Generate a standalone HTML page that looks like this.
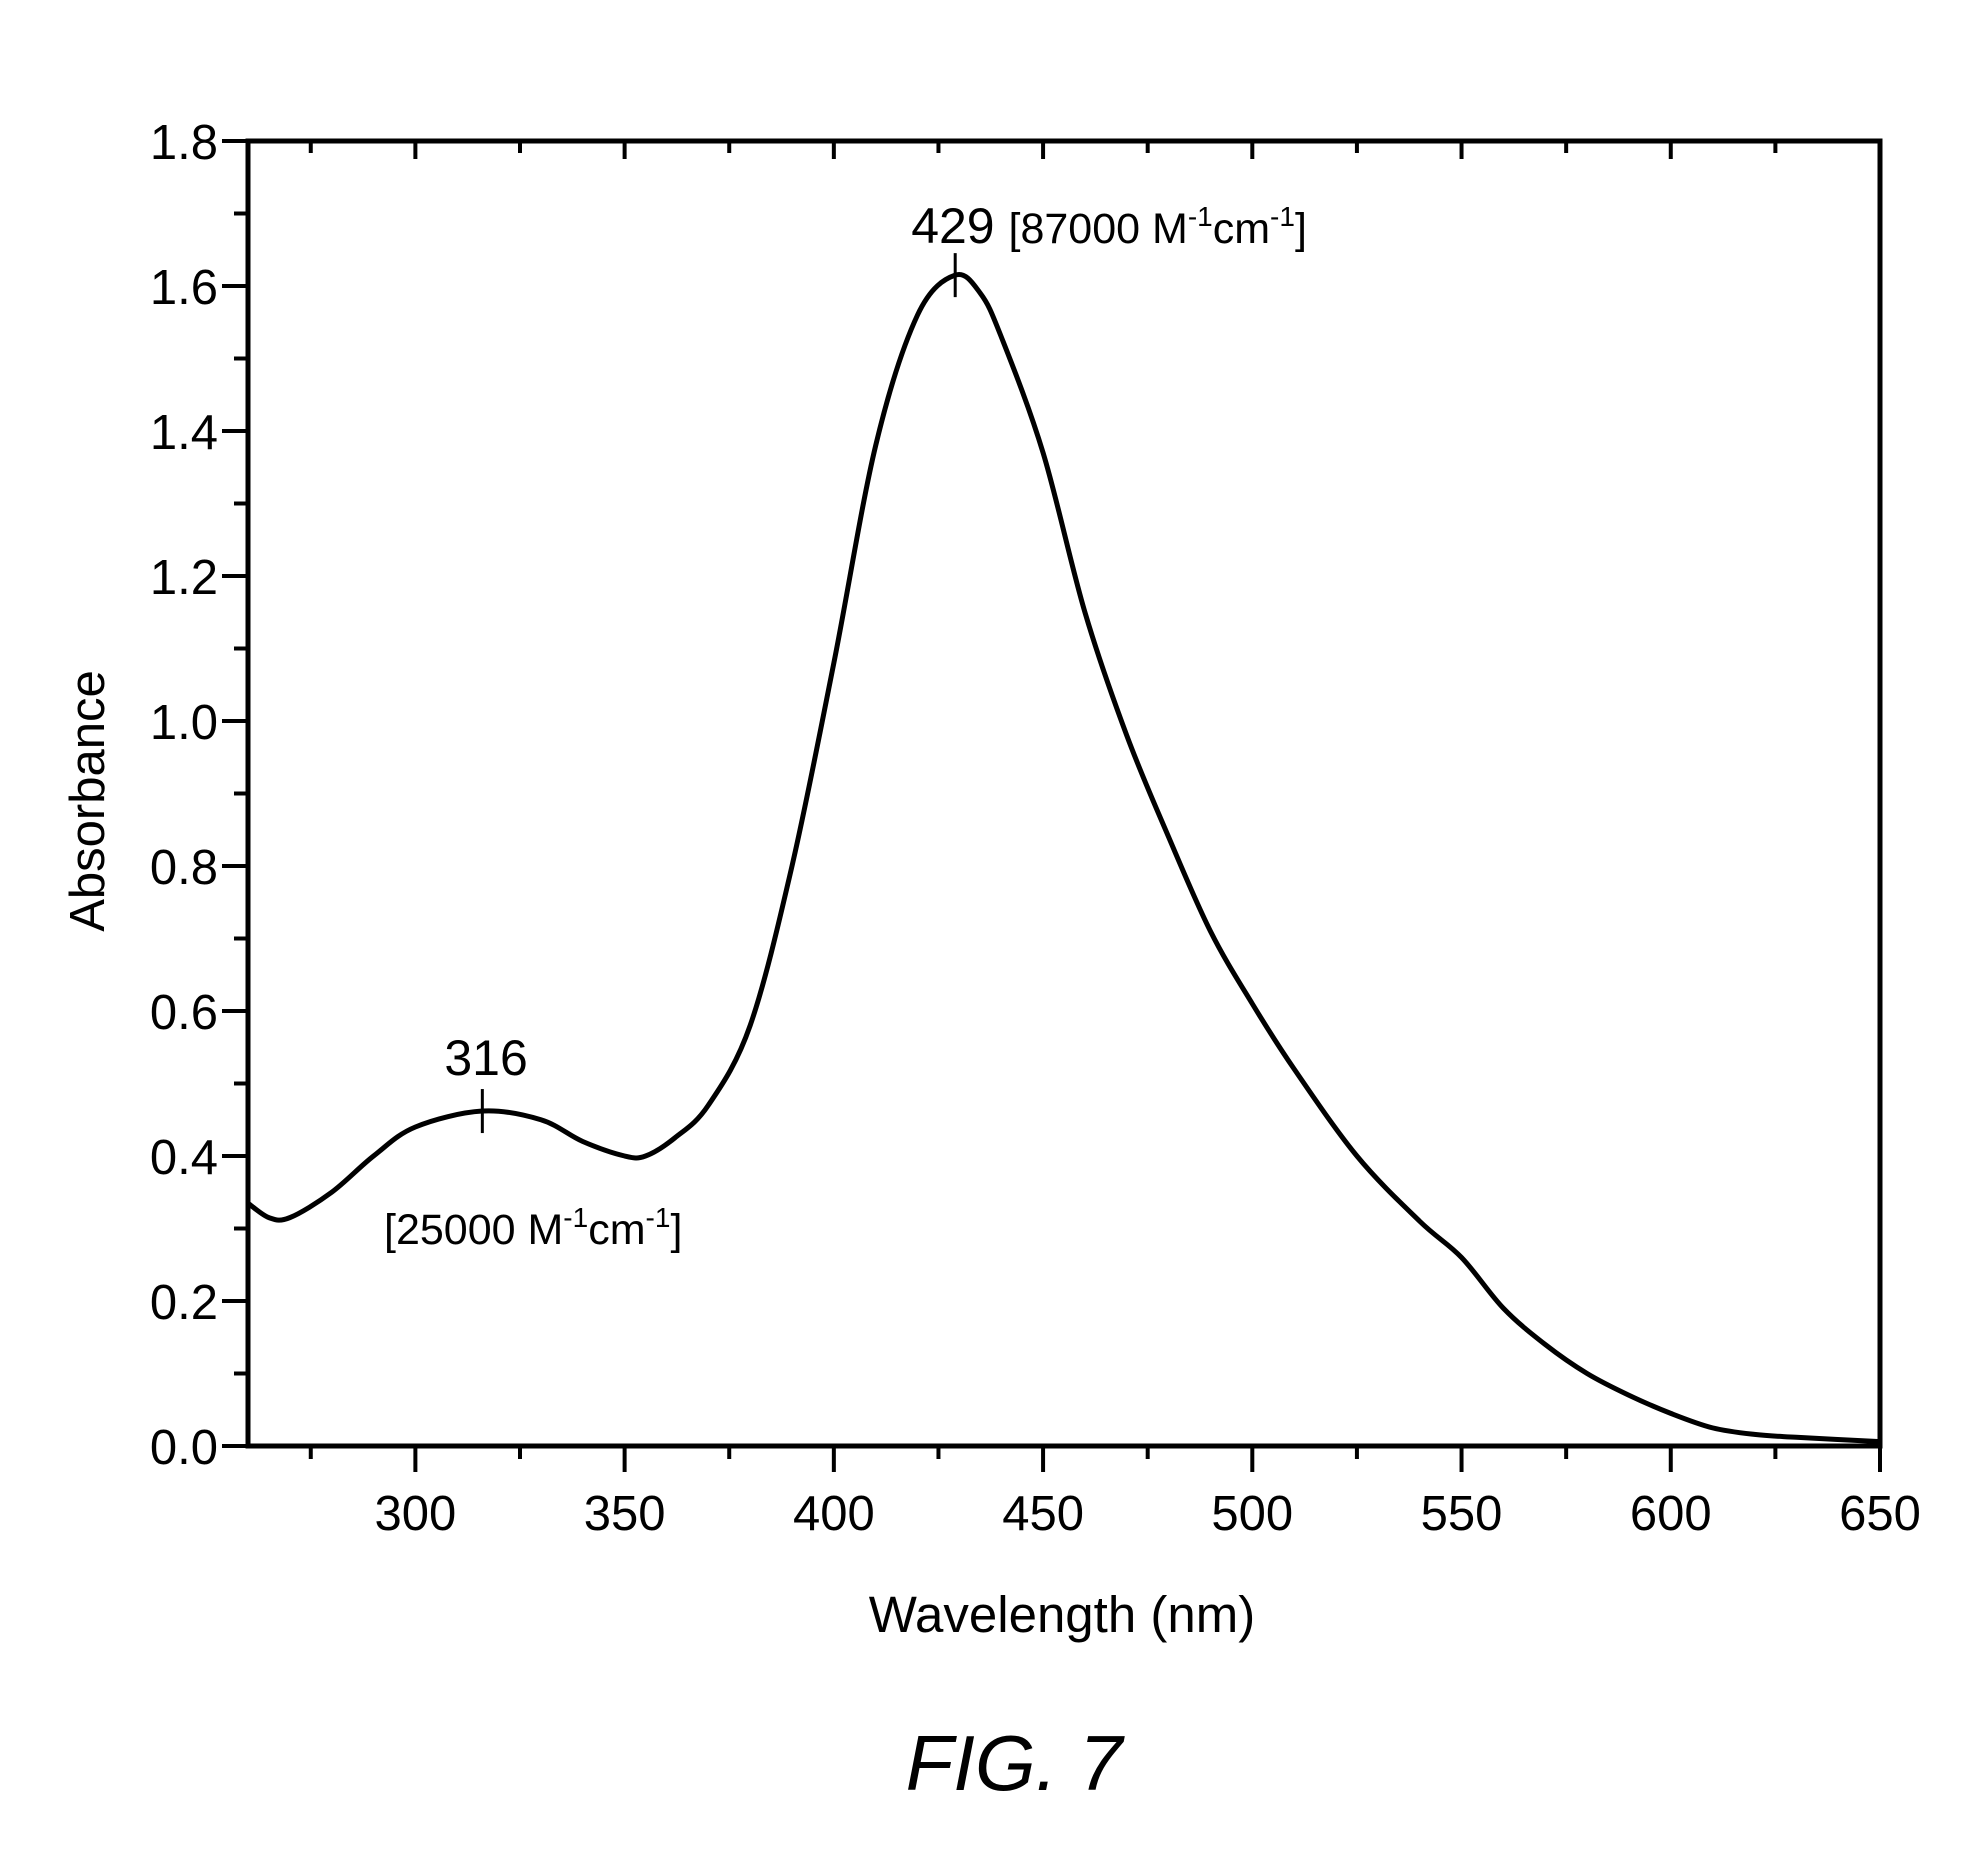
<!DOCTYPE html>
<html><head><meta charset="utf-8"><style>
body{margin:0;background:#fff}
svg{display:block}
text{font-family:"Liberation Sans",sans-serif;fill:#000}
</style></head><body>
<svg width="1980" height="1853" viewBox="0 0 1980 1853">
<g id="axes"></g>
<g id="plot"></g>
<text x="1062" y="1632" font-size="51" text-anchor="middle">Wavelength (nm)</text>
<text transform="translate(104,801) rotate(-90)" font-size="49" text-anchor="middle">Absorbance</text>
<text x="1014" y="1790" font-size="78" font-style="italic" text-anchor="middle">FIG. 7</text>
</svg>
<script>
const wavelengths=[260,265,270,280,290,300,316,330,340,350,355,362,370,380,390,400,410,420,429,435,440,450,460,470,480,490,500,510,525,540,550,560,570,580,590,600,610,620,630,650];
const absorbance=[0.335,0.315,0.315,0.35,0.40,0.44,0.462,0.45,0.42,0.40,0.40,0.425,0.47,0.58,0.80,1.08,1.38,1.56,1.615,1.59,1.53,1.37,1.15,0.98,0.84,0.71,0.61,0.52,0.40,0.31,0.26,0.19,0.14,0.10,0.07,0.045,0.025,0.016,0.012,0.006];
const xTicks=[300,350,400,450,500,550,600,650];
const yTicks=[0.0,0.2,0.4,0.6,0.8,1.0,1.2,1.4,1.6,1.8];
const peaks=[316,429];
const peakValues=[0.462,1.615];

const NS="http://www.w3.org/2000/svg";
const L=248,R=1880,T=141,B=1446,XMIN=260,XMAX=650,YMIN=0,YMAX=1.8;
const sx=v=>L+(v-XMIN)/(XMAX-XMIN)*(R-L);
const sy=v=>B-(v-YMIN)/(YMAX-YMIN)*(B-T);
const axes=document.getElementById('axes'),plot=document.getElementById('plot');
function mk(tag,attrs,parent){const e=document.createElementNS(NS,tag);for(const k in attrs)e.setAttribute(k,attrs[k]);parent.appendChild(e);return e;}

const frame=mk('rect',{x:L,y:T,width:R-L,height:B-T,fill:'none',stroke:'#000','stroke-width':5},axes);



for(let v=275;v<=650;v+=25){
  const major=v%50===0;
  const t=mk('line',{x1:sx(v),x2:sx(v),y1:B,y2:B+(major?26:13),stroke:'#000','stroke-width':4},axes);
  
  
  const t2=mk('line',{x1:sx(v),x2:sx(v),y1:T,y2:T+(major?18:12),stroke:'#000','stroke-width':4},axes);
  
  
}
xTicks.forEach(v=>{
  const tx=mk('text',{x:sx(v),y:B+84,'font-size':49,'text-anchor':'middle'},axes);
  tx.textContent=v;
  
  
});
for(let i=0;i<=18;i++){
  const v=i*0.1,major=i%2===0;
  const t=mk('line',{x1:L-(major?26:14),x2:L,y1:sy(v),y2:sy(v),stroke:'#000','stroke-width':4},axes);
  
  
}
yTicks.forEach(v=>{
  const tx=mk('text',{x:L-30,y:sy(v)+18,'font-size':49,'text-anchor':'end'},axes);
  tx.textContent=v.toFixed(1);
  
  
});

const pts=wavelengths.map((w,i)=>[sx(w),sy(absorbance[i])]);
let d='M'+pts[0][0]+','+pts[0][1];
for(let i=0;i<pts.length-1;i++){
  const p0=pts[Math.max(0,i-1)],p1=pts[i],p2=pts[i+1],p3=pts[Math.min(pts.length-1,i+2)];
  const c1=[p1[0]+(p2[0]-p0[0])/6,p1[1]+(p2[1]-p0[1])/6];
  const c2=[p2[0]-(p3[0]-p1[0])/6,p2[1]-(p3[1]-p1[1])/6];
  d+=`C${c1[0]},${c1[1]} ${c2[0]},${c2[1]} ${p2[0]},${p2[1]}`;
}
const curve=mk('path',{d:d,fill:'none',stroke:'#000','stroke-width':5,'stroke-linejoin':'round'},plot);



peaks.forEach((p,i)=>{
  const m=mk('line',{x1:sx(p),x2:sx(p),y1:sy(peakValues[i])-22,y2:sy(peakValues[i])+22,stroke:'#000','stroke-width':3},plot);
  
  
});
function ann(x,y,html,name){
  const t=mk('text',{x:x,y:y,'font-size':50},plot);
  t.innerHTML=html;
  
  
}
const eps='<tspan font-size="43">[NUM M</tspan><tspan font-size="28" dy="-17">-1</tspan><tspan font-size="43" dy="17">cm</tspan><tspan font-size="28" dy="-17">-1</tspan><tspan font-size="43" dy="17">]</tspan>';
ann(sx(429)-44,sy(1.615)-32,'429 '+eps.replace('NUM','87000'),'peak-429-label');
ann(sx(316)-38,sy(0.462)-36,'316','peak-316-label');
ann(384,1244,eps.replace('NUM','25000'),'peak-316-epsilon');
</script>
</body></html>
